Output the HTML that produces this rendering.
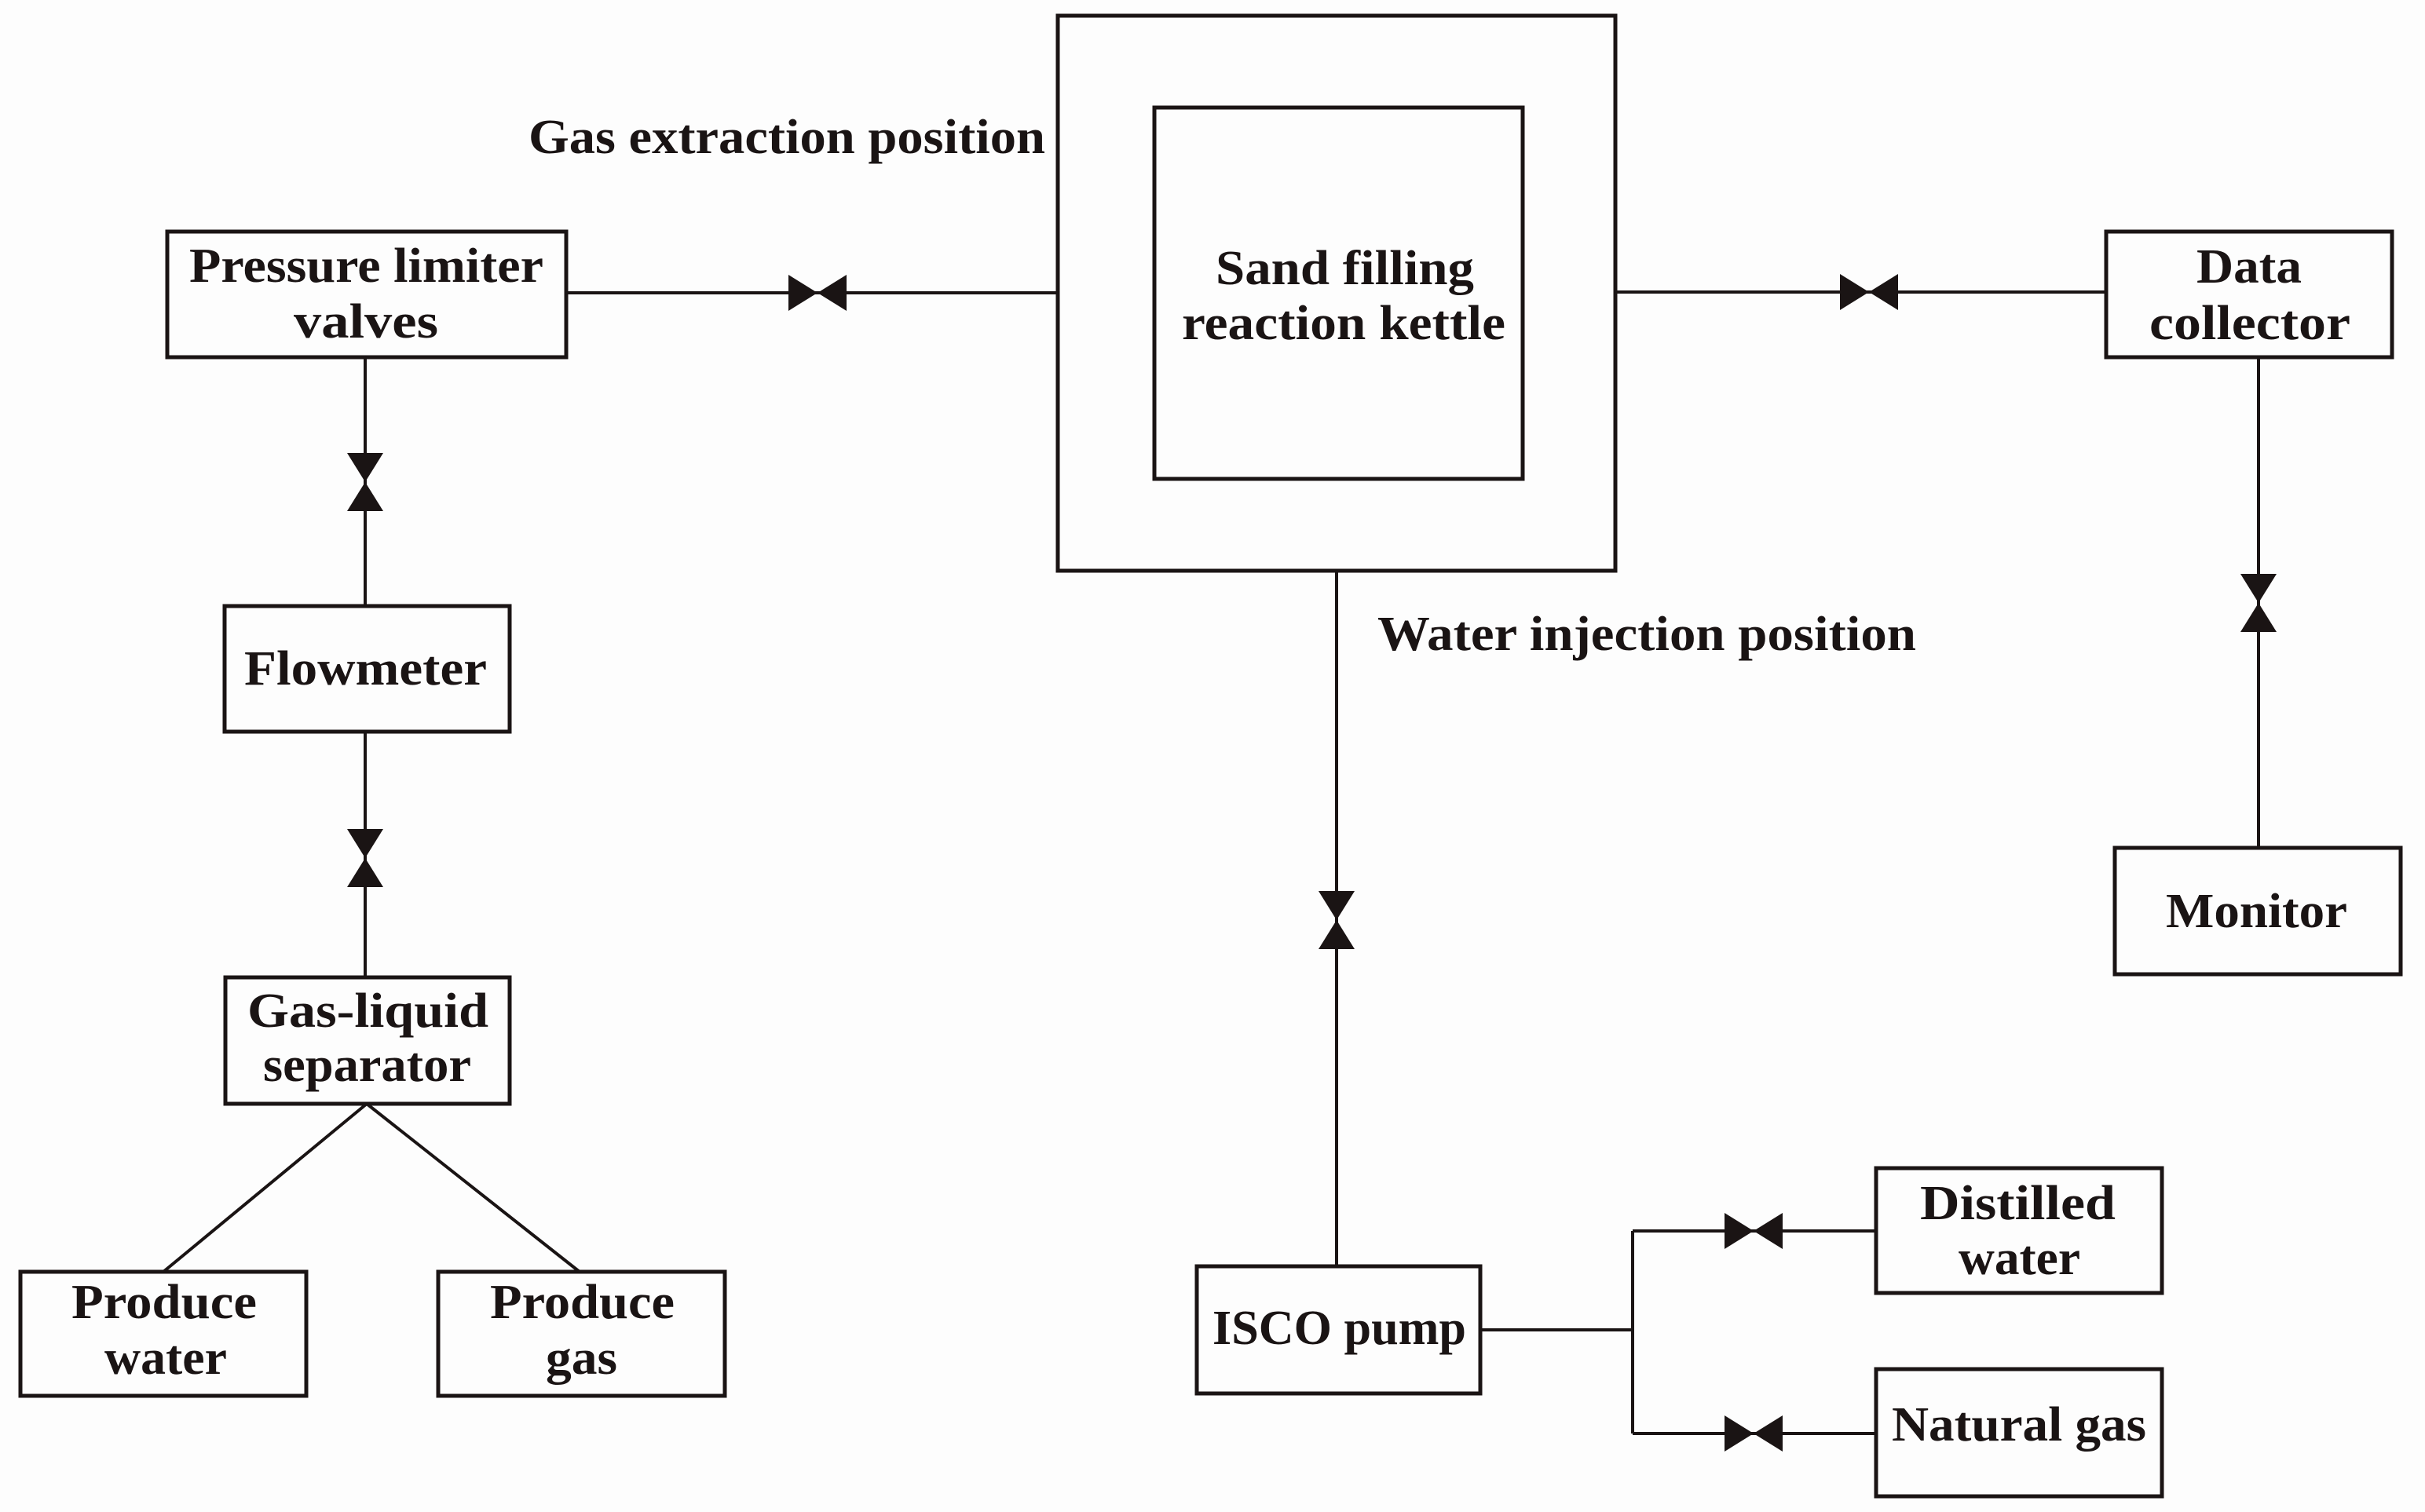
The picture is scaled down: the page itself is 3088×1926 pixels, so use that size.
<!DOCTYPE html>
<html><head><meta charset="utf-8"><style>html,body{margin:0;padding:0;background:#fdfdfd}svg{display:block}</style></head>
<body>
<svg width="3088" height="1926" viewBox="0 0 3088 1926" xmlns="http://www.w3.org/2000/svg">
<defs>
<g id="vh"><polygon points="-37,-23 0,0 -37,23" fill="#1a1414"/><polygon points="37,-23 0,0 37,23" fill="#1a1414"/></g>
<g id="vv"><polygon points="-23,-37 0,0 23,-37" fill="#1a1414"/><polygon points="-23,37 0,0 23,37" fill="#1a1414"/></g>
</defs>
<g fill="none" stroke="#1a1414" stroke-width="5">
<rect x="1347" y="20" width="710" height="707"/>
<rect x="1470" y="137" width="469" height="473"/>
<rect x="213" y="295" width="508" height="160"/>
<rect x="286" y="772" width="363" height="160"/>
<rect x="287" y="1245" width="362" height="161"/>
<rect x="26" y="1620" width="364" height="158"/>
<rect x="558" y="1620" width="365" height="158"/>
<rect x="2682" y="295" width="364" height="160"/>
<rect x="2693" y="1080" width="364" height="161"/>
<rect x="1524" y="1613" width="361" height="162"/>
<rect x="2389" y="1488" width="364" height="159"/>
<rect x="2389" y="1744" width="364" height="162"/>
</g>
<g stroke="#1a1414" stroke-width="4" fill="none">
<line x1="721" y1="373" x2="1347" y2="373"/>
<line x1="465" y1="455" x2="465" y2="772"/>
<line x1="465" y1="932" x2="465" y2="1245"/>
<line x1="467" y1="1406" x2="208" y2="1620"/>
<line x1="467" y1="1406" x2="738" y2="1620"/>
<line x1="2057" y1="372" x2="2682" y2="372"/>
<line x1="2876" y1="455" x2="2876" y2="1080"/>
<line x1="1702" y1="727" x2="1702" y2="1613"/>
<line x1="1885" y1="1694" x2="2079" y2="1694"/>
<line x1="2079" y1="1568" x2="2079" y2="1826"/>
<line x1="2079" y1="1568" x2="2389" y2="1568"/>
<line x1="2079" y1="1826" x2="2389" y2="1826"/>
</g>
<use href="#vh" x="1041" y="373"/>
<use href="#vh" x="2380" y="372"/>
<use href="#vh" x="2233" y="1568"/>
<use href="#vh" x="2233" y="1826"/>
<use href="#vv" x="465" y="614"/>
<use href="#vv" x="465" y="1093"/>
<use href="#vv" x="2876" y="768"/>
<use href="#vv" x="1702" y="1172"/>
<g font-family="Liberation Serif, serif" font-weight="bold" font-size="62" fill="#1a1414">
<text x="673" y="195" textLength="658" lengthAdjust="spacingAndGlyphs">Gas extraction position</text>
<text x="1754" y="828" textLength="686" lengthAdjust="spacingAndGlyphs">Water injection position</text>
<text x="241" y="359" textLength="451" lengthAdjust="spacingAndGlyphs">Pressure limiter</text>
<text x="374" y="430" textLength="184" lengthAdjust="spacingAndGlyphs">valves</text>
<text x="311" y="872" textLength="309" lengthAdjust="spacingAndGlyphs">Flowmeter</text>
<text x="1548" y="362" textLength="329" lengthAdjust="spacingAndGlyphs">Sand filling</text>
<text x="1505" y="432" textLength="412" lengthAdjust="spacingAndGlyphs">reaction kettle</text>
<text x="2797" y="360" textLength="134" lengthAdjust="spacingAndGlyphs">Data</text>
<text x="2737" y="432" textLength="256" lengthAdjust="spacingAndGlyphs">collector</text>
<text x="2758" y="1181" textLength="231" lengthAdjust="spacingAndGlyphs">Monitor</text>
<text x="315" y="1308" textLength="307" lengthAdjust="spacingAndGlyphs">Gas-liquid</text>
<text x="335" y="1377" textLength="265" lengthAdjust="spacingAndGlyphs">separator</text>
<text x="91" y="1679" textLength="236" lengthAdjust="spacingAndGlyphs">Produce</text>
<text x="133" y="1750" textLength="156" lengthAdjust="spacingAndGlyphs">water</text>
<text x="624" y="1679" textLength="235" lengthAdjust="spacingAndGlyphs">Produce</text>
<text x="695" y="1750" textLength="91" lengthAdjust="spacingAndGlyphs">gas</text>
<text x="1544" y="1712" textLength="323" lengthAdjust="spacingAndGlyphs">ISCO pump</text>
<text x="2445" y="1553" textLength="249" lengthAdjust="spacingAndGlyphs">Distilled</text>
<text x="2494" y="1623" textLength="155" lengthAdjust="spacingAndGlyphs">water</text>
<text x="2409" y="1835" textLength="324" lengthAdjust="spacingAndGlyphs">Natural gas</text>
</g>
</svg>
</body></html>
